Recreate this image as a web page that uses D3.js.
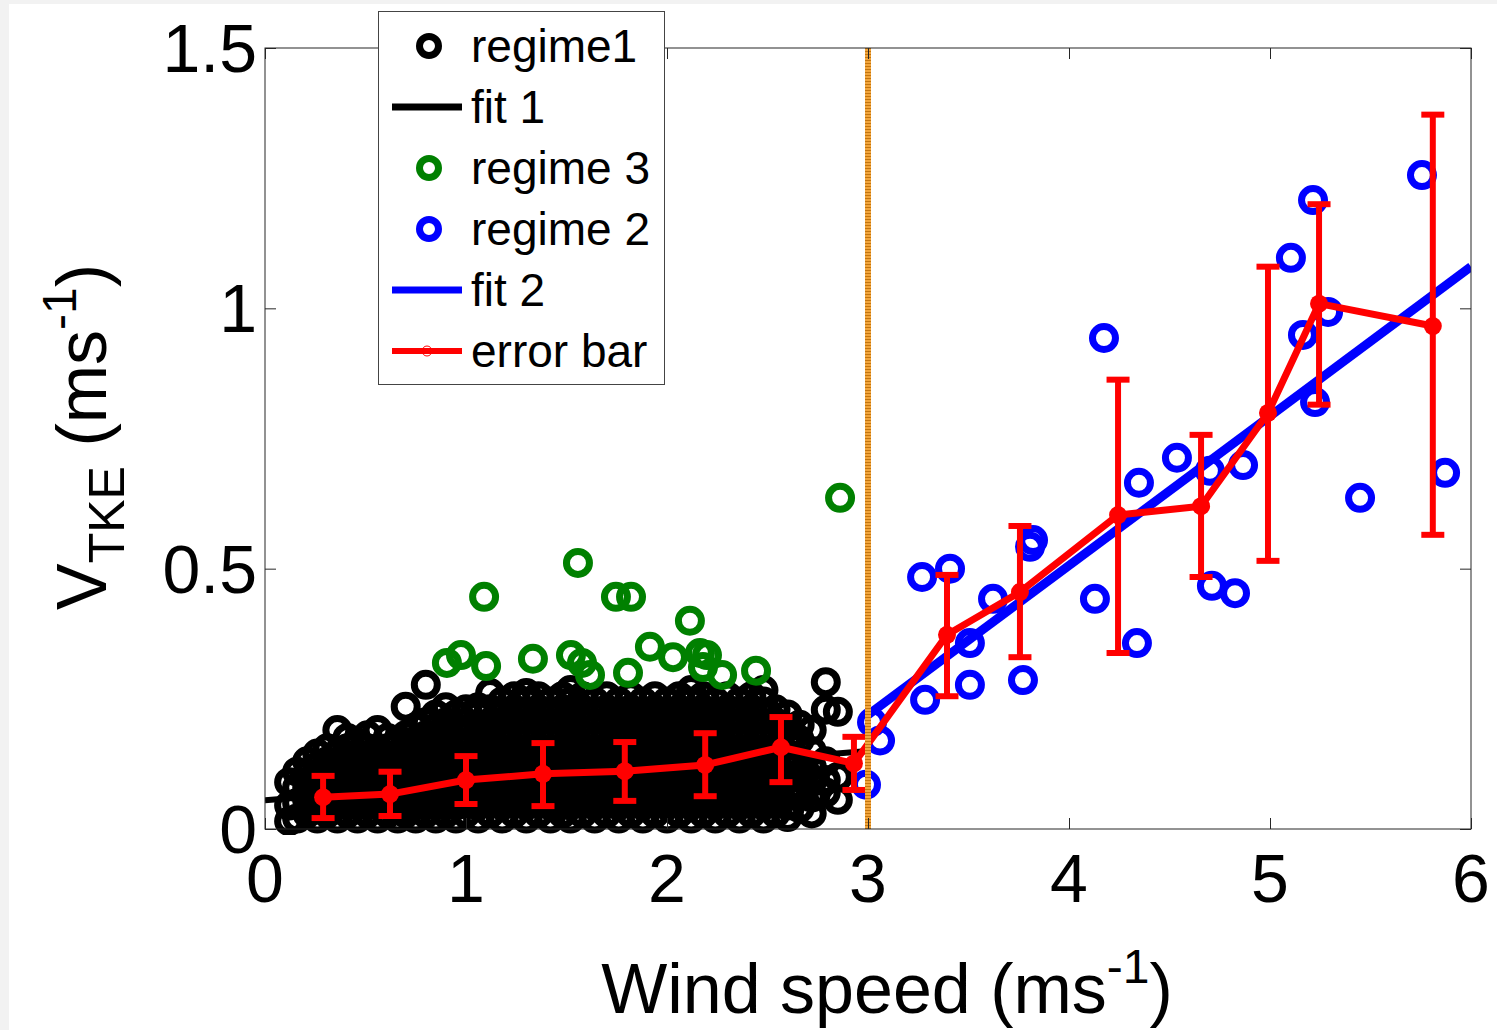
<!DOCTYPE html>
<html><head><meta charset="utf-8">
<script src="https://cdn.jsdelivr.net/npm/d3@7"></script>
<style>
html,body{margin:0;padding:0;background:#f2f2f2;}
svg{display:block;font-family:"Liberation Sans",Arial,sans-serif;}
</style></head>
<body>
<svg id="chart" width="1497" height="1030"></svg>
<script>
// ---------- data ----------
const xTicks = [0,1,2,3,4,5,6];
const xTickLabels = ["0","1","2","3","4","5","6"];
const yTicks = [0,0.5,1,1.5];
const yTickLabels = ["0","0.5","1","1.5"];

// regime 1 (black): columns of [wind speed, [V_TKE values]] read from the dense cloud
const regime1 = [
 [0.12,[0.015,0.045,0.09]],
 [0.16,[0.02,0.05,0.08,0.11]],
 [0.21,[0.03,0.055,0.08,0.105,0.13]],
 [0.26,[0.02,0.045,0.07,0.095,0.12,0.145]],
 [0.31,[0.03,0.055,0.08,0.105,0.13,0.155]],
 [0.36,[0.02,0.045,0.07,0.095,0.12,0.145,0.19]],
 [0.41,[0.03,0.055,0.08,0.105,0.13,0.155,0.175]],
 [0.46,[0.02,0.045,0.07,0.095,0.12,0.145,0.165]],
 [0.51,[0.03,0.055,0.08,0.105,0.13,0.155,0.18]],
 [0.56,[0.02,0.045,0.07,0.095,0.12,0.145,0.19]],
 [0.61,[0.03,0.055,0.08,0.105,0.13,0.155,0.175]],
 [0.66,[0.02,0.045,0.07,0.095,0.12,0.145,0.165]],
 [0.70,[0.03,0.055,0.08,0.105,0.13,0.155,0.18,0.235]],
 [0.75,[0.02,0.045,0.07,0.095,0.12,0.145,0.17,0.195]],
 [0.80,[0.03,0.055,0.08,0.105,0.13,0.155,0.18,0.205,0.277]],
 [0.85,[0.02,0.045,0.07,0.095,0.12,0.145,0.17,0.195,0.22]],
 [0.90,[0.03,0.055,0.08,0.105,0.13,0.155,0.18,0.205,0.234]],
 [0.95,[0.02,0.045,0.07,0.095,0.12,0.145,0.17,0.195,0.22]],
 [1.00,[0.03,0.055,0.08,0.105,0.13,0.155,0.18,0.205,0.23]],
 [1.06,[0.02,0.045,0.07,0.095,0.12,0.145,0.17,0.195,0.22,0.234]],
 [1.12,[0.03,0.055,0.08,0.105,0.13,0.155,0.18,0.205,0.23,0.261]],
 [1.18,[0.02,0.045,0.07,0.095,0.12,0.145,0.17,0.195,0.22,0.245]],
 [1.24,[0.03,0.055,0.08,0.105,0.13,0.155,0.18,0.205,0.23,0.255]],
 [1.30,[0.02,0.045,0.07,0.095,0.12,0.145,0.17,0.195,0.22,0.245,0.261]],
 [1.36,[0.03,0.055,0.08,0.105,0.13,0.155,0.18,0.205,0.23,0.255]],
 [1.42,[0.02,0.045,0.07,0.095,0.12,0.145,0.17,0.195,0.22,0.245]],
 [1.48,[0.03,0.055,0.08,0.105,0.13,0.155,0.18,0.205,0.23,0.255]],
 [1.52,[0.02,0.045,0.07,0.095,0.12,0.145,0.17,0.195,0.22,0.245,0.267]],
 [1.58,[0.03,0.055,0.08,0.105,0.13,0.155,0.18,0.205,0.23,0.255]],
 [1.64,[0.02,0.045,0.07,0.095,0.12,0.145,0.17,0.195,0.22,0.245]],
 [1.70,[0.03,0.055,0.08,0.105,0.13,0.155,0.18,0.205,0.23,0.255]],
 [1.76,[0.02,0.045,0.07,0.095,0.12,0.145,0.17,0.195,0.22,0.245]],
 [1.82,[0.03,0.055,0.08,0.105,0.13,0.155,0.18,0.205,0.23,0.255]],
 [1.88,[0.02,0.045,0.07,0.095,0.12,0.145,0.17,0.195,0.22,0.245]],
 [1.94,[0.03,0.055,0.08,0.105,0.13,0.155,0.18,0.205,0.23,0.255]],
 [2.00,[0.02,0.045,0.07,0.095,0.12,0.145,0.17,0.195,0.22,0.245]],
 [2.06,[0.03,0.055,0.08,0.105,0.13,0.155,0.18,0.205,0.23,0.255]],
 [2.12,[0.02,0.045,0.07,0.095,0.12,0.145,0.17,0.195,0.22,0.245,0.267]],
 [2.18,[0.03,0.055,0.08,0.105,0.13,0.155,0.18,0.205,0.23,0.255]],
 [2.24,[0.02,0.045,0.07,0.095,0.12,0.145,0.17,0.195,0.22,0.245]],
 [2.30,[0.03,0.055,0.08,0.105,0.13,0.155,0.18,0.205,0.23,0.255]],
 [2.36,[0.02,0.045,0.07,0.095,0.12,0.145,0.17,0.195,0.22,0.245]],
 [2.42,[0.03,0.055,0.08,0.105,0.13,0.155,0.18,0.205,0.23,0.255]],
 [2.48,[0.02,0.045,0.07,0.095,0.12,0.145,0.17,0.195,0.22,0.245,0.267]],
 [2.54,[0.03,0.055,0.08,0.105,0.13,0.155,0.18,0.205,0.23]],
 [2.60,[0.023,0.045,0.07,0.095,0.12,0.145,0.17,0.195,0.22]],
 [2.66,[0.04,0.07,0.10,0.13,0.171,0.20]],
 [2.72,[0.03,0.06,0.09,0.12,0.15,0.19]],
 [2.79,[0.07,0.094,0.13,0.229,0.282]],
 [2.85,[0.056,0.10,0.225]]
];

// regime 3 (green)
const regime3X = [1.557,1.090,1.746,1.821,2.114,0.905,0.975,1.100,1.333,1.522,1.577,1.617,1.806,1.915,2.030,2.164,2.199,2.179,2.274,2.443,2.861];
const regime3Y = [0.511,0.446,0.446,0.446,0.400,0.319,0.334,0.313,0.327,0.334,0.319,0.296,0.300,0.350,0.330,0.338,0.334,0.311,0.296,0.304,0.636];

// regime 2 (blue)
const regime2X = [2.99,3.06,3.02,3.269,3.284,3.408,3.507,3.507,3.622,3.771,3.806,3.821,4.129,4.174,4.338,4.348,4.537,4.701,4.711,4.826,4.866,5.104,5.164,5.214,5.224,5.289,5.448,5.756,5.871];
const regime2Y = [0.085,0.170,0.205,0.484,0.248,0.500,0.357,0.277,0.442,0.286,0.542,0.555,0.442,0.943,0.357,0.665,0.713,0.688,0.467,0.453,0.699,1.097,0.949,1.208,0.820,0.993,0.636,1.256,0.684];

// fits
const fit1X = [0, 3];
const fit1Y = [0.055, 0.15];
const fit2X = [3, 6];
const fit2Y = [0.219, 1.080];

// error bar (binned means with spread)
const ebX    = [0.289,0.622,1.000,1.383,1.790,2.190,2.567,2.930,3.393,3.756,4.244,4.657,4.990,5.244,5.810];
const ebMean = [0.061,0.067,0.094,0.106,0.111,0.123,0.157,0.126,0.373,0.455,0.603,0.620,0.799,1.009,0.966];
const ebLow  = [0.021,0.025,0.048,0.044,0.054,0.063,0.090,0.075,0.255,0.330,0.338,0.484,0.515,0.815,0.565];
const ebHigh = [0.102,0.110,0.140,0.165,0.167,0.184,0.215,0.177,0.488,0.582,0.863,0.757,1.080,1.200,1.372];

const thresholdX = 3;

const legendLabels = ["regime1","fit 1","regime 3","regime 2","fit 2","error bar"];
const legendTypes  = ["circle","line","circle","circle","line","errbar"];
const legendColors = ["#000000","#000000","#008000","#0000ff","#0000ff","#ff0000"];

// ---------- drawing ----------
const svg = d3.select("#chart");
svg.append("rect").attr("x",9).attr("y",4).attr("width",1488).attr("height",1026).attr("fill","#ffffff");

const L=265, R=1471, T=48, B=829;
const x = d3.scaleLinear().domain([0,6]).range([L,R]);
const y = d3.scaleLinear().domain([0,1.5]).range([B,T]);

svg.append("defs").append("clipPath").attr("id","clip")
  .append("rect").attr("x",L).attr("y",T-20).attr("width",R-L).attr("height",B-T+26);

const plot = svg.append("g").attr("clip-path","url(#clip)");

const line = d3.line().x(d=>x(d[0])).y(d=>y(d[1]));

// fit 1
plot.append("path").datum(d3.zip(fit1X,fit1Y)).attr("d",line)
  .attr("fill","none").attr("stroke","#000").attr("stroke-width",6);

// regime1 points
const r1pts = [];
regime1.forEach(([xv,ys])=>ys.forEach(yv=>r1pts.push([xv,yv])));
const ringR = 11.5, ringW = 7;
plot.append("g").selectAll("circle").data(r1pts).join("circle")
  .attr("cx",d=>x(d[0])).attr("cy",d=>y(d[1])).attr("r",ringR)
  .attr("fill","none").attr("stroke","#000").attr("stroke-width",ringW);

plot.append("g").selectAll("circle").data(d3.zip(regime3X,regime3Y)).join("circle")
  .attr("cx",d=>x(d[0])).attr("cy",d=>y(d[1])).attr("r",ringR)
  .attr("fill","none").attr("stroke","#008000").attr("stroke-width",ringW);

plot.append("g").selectAll("circle").data(d3.zip(regime2X,regime2Y)).join("circle")
  .attr("cx",d=>x(d[0])).attr("cy",d=>y(d[1])).attr("r",ringR)
  .attr("fill","none").attr("stroke","#0000ff").attr("stroke-width",ringW);

// fit 2
plot.append("path").datum(d3.zip(fit2X,fit2Y)).attr("d",line)
  .attr("fill","none").attr("stroke","#0000ff").attr("stroke-width",9);

// error bars
const eb = ebX.map((xv,i)=>({x:xv,m:ebMean[i],lo:ebLow[i],hi:ebHigh[i]}));
const ebg = plot.append("g");
const capW = 11.5;
ebg.selectAll("line.v").data(eb).join("line").attr("class","v")
  .attr("x1",d=>x(d.x)).attr("x2",d=>x(d.x)).attr("y1",d=>y(d.lo)).attr("y2",d=>y(d.hi))
  .attr("stroke","#ff0000").attr("stroke-width",6);
ebg.selectAll("line.t").data(eb).join("line").attr("class","t")
  .attr("x1",d=>x(d.x)-capW).attr("x2",d=>x(d.x)+capW).attr("y1",d=>y(d.hi)).attr("y2",d=>y(d.hi))
  .attr("stroke","#ff0000").attr("stroke-width",6);
ebg.selectAll("line.b").data(eb).join("line").attr("class","b")
  .attr("x1",d=>x(d.x)-capW).attr("x2",d=>x(d.x)+capW).attr("y1",d=>y(d.lo)).attr("y2",d=>y(d.lo))
  .attr("stroke","#ff0000").attr("stroke-width",6);
ebg.append("path").datum(eb.map(d=>[d.x,d.m])).attr("d",line)
  .attr("fill","none").attr("stroke","#ff0000").attr("stroke-width",7).attr("stroke-linejoin","round");
ebg.selectAll("circle").data(eb).join("circle")
  .attr("cx",d=>x(d.x)).attr("cy",d=>y(d.m)).attr("r",9).attr("fill","#ff0000");

// threshold line (orange dotted)
plot.append("line").attr("x1",x(thresholdX)).attr("x2",x(thresholdX)).attr("y1",y(0)).attr("y2",y(1.5))
  .attr("stroke","#f2a53c").attr("stroke-width",6);
plot.append("line").attr("x1",x(thresholdX)).attr("x2",x(thresholdX)).attr("y1",y(0)).attr("y2",y(1.5))
  .attr("stroke","#c27510").attr("stroke-width",6).attr("stroke-dasharray","1,2");

// axes box and ticks
const axisCol = "#262626";
svg.append("rect").attr("x",L).attr("y",T).attr("width",R-L).attr("height",B-T)
  .attr("fill","none").attr("stroke",axisCol).attr("stroke-width",1);

const axB = d3.axisBottom(x).tickValues(xTicks).tickSize(-11).tickFormat(()=>"");
const axT = d3.axisTop(x).tickValues(xTicks).tickSize(-11).tickFormat(()=>"");
const axL = d3.axisLeft(y).tickValues(yTicks).tickSize(-11).tickFormat(()=>"");
const axR = d3.axisRight(y).tickValues(yTicks).tickSize(-11).tickFormat(()=>"");
[[axB,`translate(0,${B})`],[axT,`translate(0,${T})`],[axL,`translate(${L},0)`],[axR,`translate(${R},0)`]]
 .forEach(([ax,tr])=>{
   const g = svg.append("g").attr("transform",tr).call(ax);
   g.select(".domain").remove();
   g.selectAll(".tick line").attr("stroke",axisCol).attr("stroke-width",1);
 });

// tick labels
const tickFont = 68;
svg.append("g").selectAll("text").data(xTicks).join("text")
  .attr("x",d=>x(d)).attr("y",902).attr("text-anchor","middle")
  .attr("font-size",tickFont).attr("fill","#000").text((d,i)=>xTickLabels[i]);
svg.append("g").selectAll("text").data(yTicks).join("text")
  .attr("x",257).attr("y",d=>y(d)+24).attr("text-anchor","end")
  .attr("font-size",tickFont).attr("fill","#000").text((d,i)=>yTickLabels[i]);

// axis titles
const xl = svg.append("text").attr("x",887).attr("y",1013).attr("text-anchor","middle")
  .attr("font-size",70).attr("fill","#000");
xl.append("tspan").text("Wind speed (ms");
xl.append("tspan").attr("font-size",48).attr("dy",-30).text("-1");
xl.append("tspan").attr("dy",30).text(")");

const yl = svg.append("text").attr("transform","translate(106,437) rotate(-90)")
  .attr("text-anchor","middle").attr("font-size",70).attr("fill","#000");
yl.append("tspan").text("V");
yl.append("tspan").attr("font-size",50).attr("dy",18).text("TKE");
yl.append("tspan").attr("dy",-18).text(" (ms");
yl.append("tspan").attr("font-size",48).attr("dy",-30).text("-1");
yl.append("tspan").attr("dy",30).text(")");

// legend
const lg = svg.append("g");
lg.append("rect").attr("x",378.5).attr("y",11.5).attr("width",286).attr("height",373)
  .attr("fill","#fff").attr("stroke","#444").attr("stroke-width",1);
const ly0 = 46, ldy = 61;
legendLabels.forEach((lab,i)=>{
  const cy = ly0 + i*ldy;
  const t = legendTypes[i], c = legendColors[i];
  if (t==="circle") {
    lg.append("circle").attr("cx",429).attr("cy",cy).attr("r",9.5).attr("fill","none")
      .attr("stroke",c).attr("stroke-width",7);
  } else {
    lg.append("line").attr("x1",392).attr("x2",462).attr("y1",cy).attr("y2",cy)
      .attr("stroke",c).attr("stroke-width",t==="line"?7:6);
    if (t==="errbar") {
      lg.append("circle").attr("cx",427).attr("cy",cy).attr("r",5).attr("fill","none")
        .attr("stroke",c).attr("stroke-width",1);
    }
  }
  lg.append("text").attr("x",471).attr("y",cy+16).attr("font-size",46).attr("fill","#000").text(lab);
});
</script>
</body></html>
